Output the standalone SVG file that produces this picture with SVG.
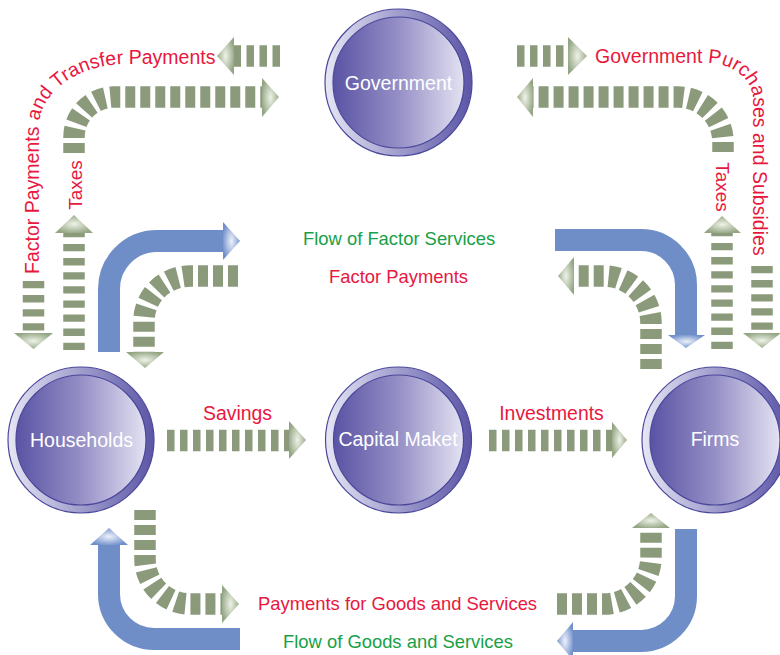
<svg xmlns="http://www.w3.org/2000/svg" width="780" height="655" viewBox="0 0 780 655">
<defs>
<linearGradient id="ring" x1="0" y1="0" x2="1" y2="0">
<stop offset="0" stop-color="#e6e6f4"/><stop offset="1" stop-color="#5b55a6"/>
</linearGradient>
<linearGradient id="core" x1="0" y1="0" x2="1" y2="0">
<stop offset="0" stop-color="#5a53a4"/><stop offset="0.5" stop-color="#958fc6"/><stop offset="1" stop-color="#e3e2f2"/>
</linearGradient>
<radialGradient id="gHead" cx="0.5" cy="0.5" r="0.55">
<stop offset="0" stop-color="#eef2e8"/><stop offset="1" stop-color="#93a582"/>
</radialGradient>
<radialGradient id="bHead" cx="0.5" cy="0.5" r="0.55">
<stop offset="0" stop-color="#eef1fa"/><stop offset="1" stop-color="#7090cc"/>
</radialGradient>
<path id="tpLeft" d="M39,274 V127 A88,63 0 0 1 127,64 H240"/>
<path id="tpRight" d="M595,63 H708 A45,37 0 0 1 753,100 V300"/>
</defs>
<style>
.ring{fill:url(#ring);stroke:#4a479b;stroke-width:1.2}
.core{fill:url(#core);stroke:#4a479b;stroke-width:1.2}
.ntxt{font-family:"Liberation Sans",Arial,sans-serif;font-size:19.5px;fill:#ffffff;text-anchor:middle}
.lbl{font-family:"Liberation Sans",Arial,sans-serif;font-size:18.4px}
.big{font-size:19.5px}
.tax{font-size:19px}
.red{fill:#e8173e}
.grn{fill:#18a048}
.bars{fill:none;stroke:#8b9a7b;stroke-width:21.5;stroke-dasharray:7.5 5.5}
.vbars{fill:none;stroke:#8b9a7b;stroke-width:21.5;stroke-dasharray:7.3 6.8}
.cbars{fill:none;stroke:#8b9a7b;stroke-width:21.5;stroke-dasharray:10 5}
.blue{fill:none;stroke:#6f8ec8;stroke-width:22}
.gh{fill:url(#gHead)}
.bh{fill:url(#bHead)}
</style>
<rect width="780" height="655" fill="#ffffff"/>

<g id="connectors">
<!-- top left -->
<path class="bars" d="M280,56 H234"/>
<polygon class="gh" points="234,37 217,56 234,75"/>
<path class="cbars" d="M74,153 V137 A40,40 0 0 1 114,97 H262"/>
<polygon class="gh" points="262,78 279,97 262,117"/>
<path class="vbars" d="M74,350 V233"/>
<polygon class="gh" points="55,233 74,215 93,233"/>
<path class="vbars" d="M33.5,281 V333"/>
<polygon class="gh" points="14,333 33.5,349 53,333"/>
<!-- top right -->
<path class="bars" d="M517,56 H568"/>
<polygon class="gh" points="568,37 587,56 568,75"/>
<path class="cbars" d="M723,152 V142 A45,45 0 0 0 678,97 H533"/>
<polygon class="gh" points="533,78 517,97 533,117"/>
<path class="vbars" d="M722,349 V233"/>
<polygon class="gh" points="704,233 722,216 741,233"/>
<path class="vbars" d="M762,266 V333"/>
<polygon class="gh" points="743,333 762,348 781,333"/>
<!-- upper middle -->
<path class="blue" d="M109,352 V289 A48,48 0 0 1 157,241 H223"/>
<polygon class="bh" points="223,222 240,241 223,260"/>
<path class="cbars" d="M238,276 H190 A46,45 0 0 0 144,321 V352"/>
<polygon class="gh" points="126,352 145,368 164,352"/>
<path class="blue" d="M555,240 H641 A45,45 0 0 1 686,285 V335"/>
<polygon class="bh" points="668,335 686,348 705,335"/>
<path class="cbars" d="M651,369 V323 A47,47 0 0 0 604,276 H574"/>
<polygon class="gh" points="574,257 558,276 574,295"/>
<!-- middle -->
<path class="bars" d="M167,440.5 H289"/>
<polygon class="gh" points="289,421 306,440 289,459"/>
<path class="bars" d="M489,440.5 H612"/>
<polygon class="gh" points="612,422 627,440 612,458"/>
<!-- bottom -->
<path class="cbars" d="M145,510 V559 A45,45 0 0 0 190,604 H222"/>
<polygon class="gh" points="222,585 239,604 222,623"/>
<path class="blue" d="M240,639 H154 A45,45 0 0 1 109,594 V545"/>
<polygon class="bh" points="90,545 109,528 128,545"/>
<path class="cbars" d="M557,604 H604 A47,47 0 0 0 651,557 V528"/>
<polygon class="gh" points="632,528 651,513 670,528"/>
<path class="blue" d="M686,529 V596 A45,45 0 0 1 641,641 H573"/>
<polygon class="bh" points="573,622 557,641 573,660"/>
</g>

<g id="labels">
<text class="lbl big red"><textPath href="#tpLeft">Factor Payments and Transfer Payments</textPath></text>
<text class="lbl big red"><textPath href="#tpRight">Government Purchases and Subsidies</textPath></text>
<text class="lbl tax red" text-anchor="middle" transform="translate(82,185) rotate(-90)">Taxes</text>
<text class="lbl tax red" text-anchor="middle" transform="translate(716,187) rotate(90)">Taxes</text>
<text class="lbl grn" x="303" y="245">Flow of Factor Services</text>
<text class="lbl red" x="329" y="283">Factor Payments</text>
<text class="lbl red" x="237.5" y="420" style="font-size:19.4px" text-anchor="middle">Savings</text>
<text class="lbl red" x="551.5" y="420" style="font-size:19.4px" text-anchor="middle">Investments</text>
<text class="lbl red" x="258" y="610">Payments for Goods and Services</text>
<text class="lbl grn" x="283" y="648">Flow of Goods and Services</text>
</g>

<g id="government">
<circle class="ring" cx="398.5" cy="82.5" r="73.5"/>
<circle class="core" cx="398.5" cy="82.5" r="65.5"/>
<text class="ntxt" x="398.5" y="90">Government</text>
</g>
<g id="households">
<circle class="ring" cx="81" cy="440" r="73"/>
<circle class="core" cx="81" cy="440" r="65"/>
<text class="ntxt" x="81.5" y="447">Households</text>
</g>
<g id="capital-market">
<circle class="ring" cx="398.5" cy="440" r="73"/>
<circle class="core" cx="398.5" cy="440" r="65"/>
<text class="ntxt" x="398" y="446">Capital Maket</text>
</g>
<g id="firms">
<circle class="ring" cx="715" cy="440" r="73"/>
<circle class="core" cx="715" cy="440" r="65"/>
<text class="ntxt" x="715" y="446">Firms</text>
</g>
</svg>
